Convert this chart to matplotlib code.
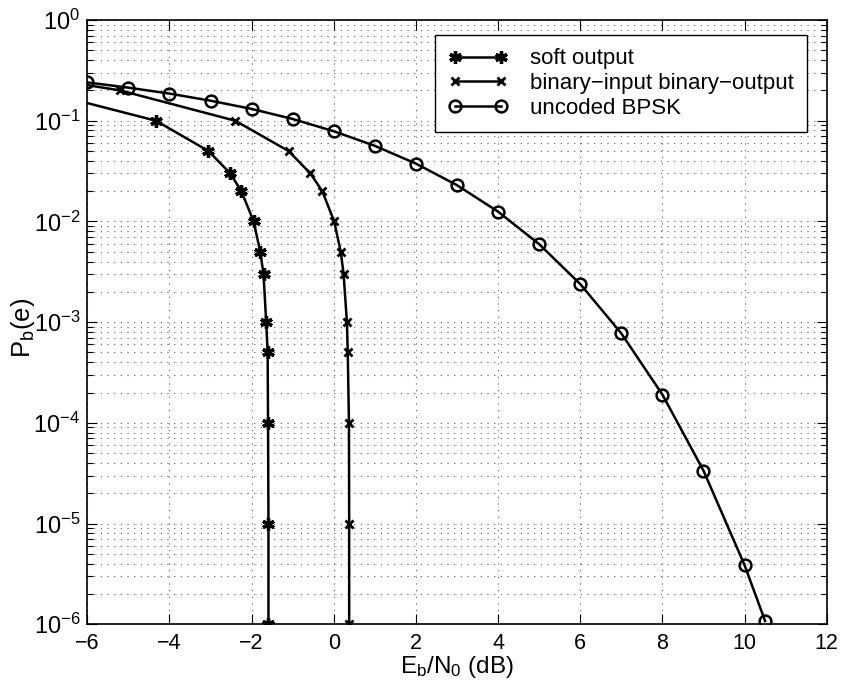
import matplotlib
matplotlib.use('Agg')
import matplotlib.pyplot as plt
from matplotlib.ticker import LogLocator, MultipleLocator, NullFormatter

plt.rcParams['font.family'] = ['Liberation Sans', 'DejaVu Sans']
plt.rcParams['mathtext.fontset'] = 'custom'
plt.rcParams['mathtext.rm'] = 'Liberation Sans'
plt.rcParams['mathtext.it'] = 'Liberation Sans'
plt.rcParams['mathtext.bf'] = 'Liberation Sans'

# Eb/N0 (dB) and bit error probability for each curve
soft_ebn0 = [-7.2, -4.33, -3.05, -2.52, -2.25, -1.95, -1.79, -1.71, -1.645, -1.61, -1.60, -1.59, -1.59]
soft_pb = [0.2, 0.1, 0.05, 0.03, 0.02, 0.01, 0.005, 0.003, 0.001, 0.0005, 1e-4, 1e-5, 1e-6]

bibo_ebn0 = [-7.9, -5.2, -2.4, -1.1, -0.57, -0.28, 0.01, 0.17, 0.24, 0.32, 0.34, 0.37, 0.375, 0.375]
bibo_pb = [0.3, 0.2, 0.1, 0.05, 0.03, 0.02, 0.01, 0.005, 0.003, 0.001, 0.0005, 1e-4, 1e-5, 1e-6]

bpsk_ebn0 = [-6, -5, -4, -3, -2, -1, 0, 1, 2, 3, 4, 5, 6, 7, 8, 9, 10, 10.5]
bpsk_pb = [0.24, 0.213, 0.186, 0.158, 0.131, 0.104, 0.0786, 0.0563, 0.0375, 0.0229,
           0.0125, 0.00595, 0.00239, 0.000773, 0.000191, 3.36e-5, 3.87e-6, 1.08e-6]

labels = ['soft output', 'binary\u2212input binary\u2212output', 'uncoded BPSK']

fig = plt.figure(figsize=(8.43, 6.92), dpi=100)
ax = fig.add_axes([87.3 / 843, 1 - 624.3 / 692, 739.4 / 843, 604.3 / 692])

ax.semilogy(soft_ebn0, soft_pb, color='k', lw=1.8, marker=(6, 2, 0), ms=9, mew=2.4, label=labels[0])
ax.semilogy(bibo_ebn0, bibo_pb, color='k', lw=1.8, marker='x', ms=6, mew=2, label=labels[1])
ax.semilogy(bpsk_ebn0, bpsk_pb, color='k', lw=1.8, marker='o', ms=8.5, mew=1.8, mfc='none', label=labels[2])

ax.set_xlim(-6, 12)
ax.set_ylim(1e-6, 1)
ax.xaxis.set_major_locator(MultipleLocator(2))
ax.yaxis.set_major_locator(LogLocator(base=10, numticks=10))
ax.yaxis.set_minor_locator(LogLocator(base=10, subs=range(2, 10), numticks=20))
ax.yaxis.set_minor_formatter(NullFormatter())

ax.tick_params(which='both', direction='in', top=True, right=True, width=0.8)
ax.tick_params(which='major', length=7)
ax.tick_params(which='minor', length=4)
ax.tick_params(axis='x', which='major', pad=6.5, labelsize=15.5)
ax.tick_params(axis='y', which='major', pad=5, labelsize=17)
for s in ax.spines.values():
    s.set_linewidth(1.2)

grid_style = dict(color='0.35', linestyle=(0, (1, 5)), linewidth=0.8)
ax.grid(True, which='major', axis='both', **grid_style)
ax.grid(True, which='minor', axis='y', **grid_style)

ax.set_xlabel(r'$\mathregular{E_b/N_0}$ (dB)', fontsize=17.5)
ax.xaxis.set_label_coords(0.5, -0.049)
ax.set_ylabel(r'$\mathregular{P_b(e)}$', fontsize=18.5)
ax.yaxis.set_label_coords(-0.068, 0.49)

leg = ax.legend(loc='upper right', bbox_to_anchor=(0.974, 0.975), borderaxespad=0,
                fontsize=16, numpoints=2, handlelength=2.7, handletextpad=1.0,
                labelspacing=0.17, borderpad=0.6, fancybox=False, framealpha=1)
leg.get_frame().set_edgecolor('k')
leg.get_frame().set_linewidth(1.0)

plt.savefig('out.png', dpi=100)
plt.close()
